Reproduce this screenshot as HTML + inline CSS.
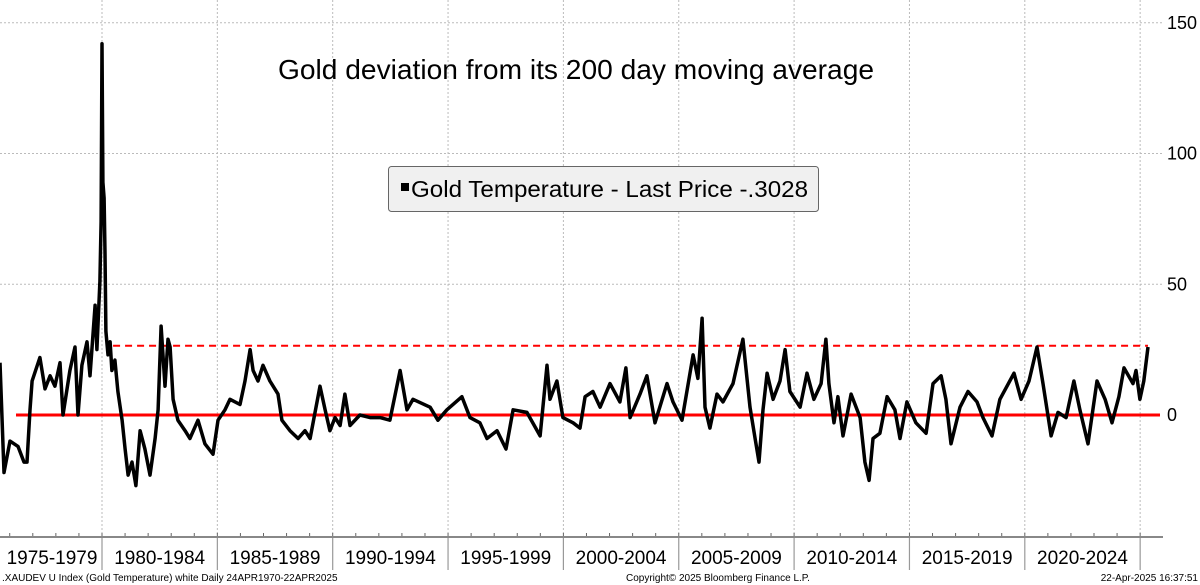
<!DOCTYPE html>
<html><head><meta charset="utf-8">
<style>
body{margin:0;background:#fff;}
svg{display:block;font-family:"Liberation Sans",sans-serif;}
</style></head>
<body>
<svg id="chart" width="1200" height="585" viewBox="0 0 1200 585">
<g id="grid"></g>
<g id="refs"></g>
<g id="series"></g>
<g id="axes"></g>
<text x="576" y="79" text-anchor="middle" font-size="28" fill="#000" textLength="596" lengthAdjust="spacingAndGlyphs">Gold deviation from its 200 day moving average</text>
<g>
<rect x="388.5" y="166.5" width="430" height="45" rx="3" fill="#f0f0f0" stroke="#666"/>
<rect x="401" y="183" width="8" height="8" fill="#000"/>
<text x="411" y="197" font-size="23" fill="#000" textLength="397" lengthAdjust="spacingAndGlyphs">Gold Temperature - Last Price  -.3028</text>
</g>
<text x="2" y="581" font-size="10" fill="#000">.XAUDEV U Index (Gold Temperature) white  Daily 24APR1970-22APR2025</text>
<text x="626" y="581" font-size="10" fill="#000">Copyright© 2025 Bloomberg Finance L.P.</text>
<text x="1198" y="581" font-size="10" fill="#000" text-anchor="end">22-Apr-2025 16:37:51</text>
</svg>
<script>
const years = [1975.58,1975.75,1976.01,1976.36,1976.62,1976.75,1976.88,1976.97,1977.31,1977.53,1977.75,1977.96,1978.18,1978.31,1978.61,1978.83,1978.96,1979.13,1979.35,1979.48,1979.70,1979.78,1979.91,1979.96,1980.00,1980.04,1980.09,1980.13,1980.17,1980.26,1980.35,1980.43,1980.56,1980.69,1980.87,1981.00,1981.13,1981.30,1981.47,1981.65,1981.86,1982.08,1982.30,1982.43,1982.56,1982.73,1982.86,1982.95,1983.08,1983.29,1983.60,1983.81,1984.16,1984.46,1984.81,1985.03,1985.33,1985.55,1985.98,1986.20,1986.42,1986.55,1986.76,1986.98,1987.28,1987.63,1987.80,1988.15,1988.50,1988.80,1989.02,1989.45,1989.67,1989.88,1990.10,1990.32,1990.53,1990.75,1991.18,1991.62,1992.05,1992.48,1992.92,1993.22,1993.48,1994.22,1994.56,1994.95,1995.60,1995.95,1996.38,1996.69,1997.12,1997.51,1997.82,1998.42,1998.99,1999.29,1999.42,1999.72,1999.98,2000.42,2000.72,2000.94,2001.28,2001.59,2002.02,2002.45,2002.71,2002.89,2003.32,2003.62,2003.97,2004.49,2004.75,2005.14,2005.62,2005.83,2006.01,2006.14,2006.35,2006.66,2006.92,2007.35,2007.78,2008.09,2008.31,2008.48,2008.65,2008.83,2009.09,2009.39,2009.61,2009.82,2010.26,2010.56,2010.86,2011.17,2011.38,2011.51,2011.73,2011.90,2012.12,2012.47,2012.86,2013.07,2013.25,2013.42,2013.72,2014.03,2014.37,2014.59,2014.89,2015.28,2015.72,2016.02,2016.37,2016.58,2016.80,2017.19,2017.54,2017.93,2018.19,2018.58,2018.92,2019.53,2019.84,2020.18,2020.53,2020.79,2021.14,2021.44,2021.79,2022.13,2022.39,2022.74,2023.13,2023.48,2023.78,2024.08,2024.30,2024.69,2024.82,2024.99,2025.16,2025.34];
const values = [20,-22,-10,-12,-18,-18,2,13,22,10,15,11,20,0,17,26,0,19,28,15,42,25,51,74,142,89,83,62,32,23,28,17,21,9,-2,-13,-23,-18,-27,-6,-13,-23,-9,2,34,11,29,26,6,-2,-6,-9,-2,-11,-15,-2,2,6,4,13,25,17,13,19,13,8,-2,-6,-9,-6,-9,11,2,-6,-1,-4,8,-4,0,-1,-1,-2,17,2,6,3,-2,2,7,-1,-3,-9,-6,-13,2,1,-8,19,6,13,-1,-3,-5,7,9,3,12,5,18,-1,8,15,-3,12,5,-2,23,14,37,3,-5,8,5,12,29,3,-9,-18,2,16,6,13,25,9,3,16,6,12,29,12,-3,7,-8,8,-1,-18,-25,-9,-7,7,2,-9,5,-3,-7,12,15,6,-11,3,9,5,-1,-8,6,16,6,13,26,12,-8,1,-1,13,2,-11,13,6,-3,7,18,12,17,6,13,26];
const yTicks = [0,50,100,150];
const periodStarts = [1980,1985,1990,1995,2000,2005,2010,2015,2020,2025];
const periodLabels = ["1975-1979","1980-1984","1985-1989","1990-1994","1995-1999","2000-2004","2005-2009","2010-2014","2015-2019","2020-2024"];
const thresholdValue = 26.5;
const thresholdStart = 1980.48;
const thresholdEnd = 2025.34;

const NS = "http://www.w3.org/2000/svg";
const X0 = 102, PXY = 23.07;
function xs(yr){ return X0 + (yr - 1980) * PXY; }
function ys(v){ return 415 - v * 2.615; }
function mk(tag, attrs, parent){ const e=document.createElementNS(NS,tag); for(const k in attrs) e.setAttribute(k,attrs[k]); parent.appendChild(e); return e; }
const grid=document.getElementById('grid'), refs=document.getElementById('refs'), ser=document.getElementById('series'), axes=document.getElementById('axes');
const PR = 1163;

yTicks.forEach(t=>{
  if(t!==0){
    const g = mk('line',{x1:0,x2:PR,y1:ys(t),y2:ys(t),stroke:'#bbb','stroke-width':1,'stroke-dasharray':'2,2'},grid);
    
    
  }
  const l = mk('text',{x:1167,y:ys(t)+6,'font-size':18,fill:'#000'},axes);
  l.textContent = t;
  
  
});

periodStarts.forEach(yr=>{
  const x = xs(yr);
  const g = mk('line',{x1:x,x2:x,y1:0,y2:537,stroke:'#bbb','stroke-width':1,'stroke-dasharray':'2,2'},grid);
  
  
  const d = mk('line',{x1:x,x2:x,y1:537,y2:570,stroke:'#999','stroke-width':1.2},axes);
  
  
});
for(let yr=1976; yr<=2026; yr++){
  const x = xs(yr);
  if(x>PR) break;
  const t = mk('line',{x1:x,x2:x,y1:533,y2:537,stroke:'#666','stroke-width':1},axes);
  
  
}
const ax = mk('line',{x1:0,x2:PR,y1:537,y2:537,stroke:'#888','stroke-width':2},axes);


periodLabels.forEach((lab,i)=>{
  const cx = (xs(periodStarts[i]-5) + xs(periodStarts[i]))/2;
  const t = mk('text',{x:Math.max(cx,52),y:564,'font-size':19,'text-anchor':'middle',fill:'#000'},axes);
  t.textContent = lab;
  
  
});

const zl = mk('line',{x1:16,x2:1160,y1:ys(0),y2:ys(0),stroke:'#ff0000','stroke-width':3},refs);


const th = mk('line',{x1:xs(thresholdStart),x2:xs(thresholdEnd),y1:ys(thresholdValue),y2:ys(thresholdValue),stroke:'#ff0000','stroke-width':2,'stroke-dasharray':'7,5'},refs);



const pts = years.map((yr,i)=>xs(yr).toFixed(1)+','+ys(values[i]).toFixed(1)).join(' ');
const pl = mk('polyline',{points:pts,fill:'none',stroke:'#000','stroke-width':3.5,'stroke-linejoin':'round'},ser);


</script>
</body></html>
